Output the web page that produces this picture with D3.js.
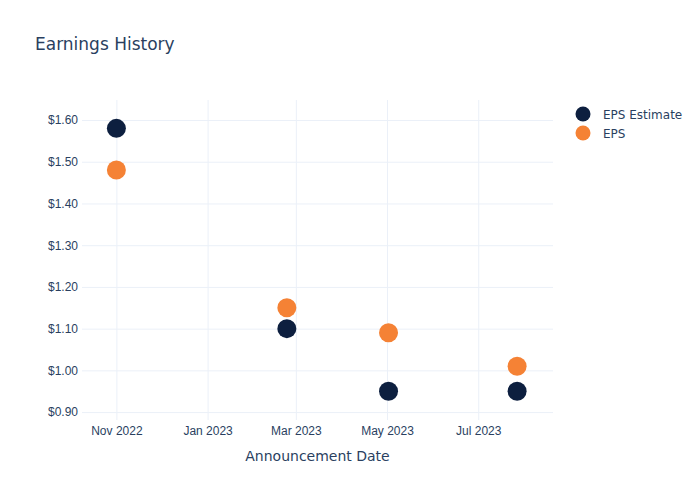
<!DOCTYPE html>
<html>
<head>
<meta charset="utf-8">
<script src="https://cdn.jsdelivr.net/npm/d3@7"></script>
<style>
  body { margin: 0; background: #fff; }
  svg { font-family: "DejaVu Sans", sans-serif; }
</style>
</head>
<body>
<svg id="chart" width="700" height="500"></svg>
<script>
const dates = ["2022-11-01", "2023-02-23", "2023-05-02", "2023-07-27"];
const epsEstimate = [1.58, 1.10, 0.95, 0.95];
const epsActual = [1.48, 1.15, 1.09, 1.01];
const seriesNames = ["EPS Estimate", "EPS"];
const seriesColors = ["#0d1f3f", "#f58235"];
const yTicks = [0.9, 1.0, 1.1, 1.2, 1.3, 1.4, 1.5, 1.6];
const xTicks = ["2022-11-01", "2023-01-01", "2023-03-01", "2023-05-01", "2023-07-01"];

(function () {
const parse = d3.utcParse("%Y-%m-%d");
const svg = d3.select("#chart");
const pLeft = 82, pRight = 553, pTop = 100, pBottom = 420;
const textColor = "#2a3f5f";
const gridColor = "#ebf0f8";

const x = d3.scaleUtc()
  .domain([parse("2022-10-09"), parse("2023-08-20")])
  .range([pLeft, pRight]);
const y = d3.scaleLinear()
  .domain([0.881, 1.648])
  .range([pBottom, pTop]);

const xAxis = d3.axisBottom(x)
  .tickValues(xTicks.map(parse))
  .tickFormat(d3.utcFormat("%b %Y"))
  .tickSize(-(pBottom - pTop))
  .tickPadding(6);
const gx = svg.append("g").attr("transform", `translate(0,${pBottom})`).call(xAxis);
gx.select(".domain").remove();
gx.selectAll("line").attr("stroke", gridColor);
gx.selectAll("text").attr("fill", textColor).attr("font-size", 12);

const yAxis = d3.axisLeft(y)
  .tickValues(yTicks)
  .tickFormat(d => "$" + d.toFixed(2))
  .tickSize(-(pRight - pLeft))
  .tickPadding(4);
const gy = svg.append("g").attr("transform", `translate(${pLeft},0)`).call(yAxis);
gy.select(".domain").remove();
gy.selectAll("line").attr("stroke", gridColor);
gy.selectAll("text").attr("fill", textColor).attr("font-size", 12);

const series = [epsEstimate, epsActual];
series.forEach((vals, i) => {
  svg.append("g").selectAll("circle")
    .data(vals.map((v, j) => ({ d: parse(dates[j]), v })))
    .join("circle")
    .attr("cx", d => x(d.d))
    .attr("cy", d => y(d.v))
    .attr("r", 9.5)
    .attr("fill", seriesColors[i]);
});

svg.append("text").attr("x", 35).attr("y", 50)
  .attr("font-size", 17).attr("fill", textColor)
  .text("Earnings History");

svg.append("text").attr("x", (pLeft + pRight) / 2).attr("y", 461)
  .attr("text-anchor", "middle").attr("font-size", 14).attr("fill", textColor)
  .text("Announcement Date");

seriesNames.forEach((name, i) => {
  const ly = 114 + i * 19;
  svg.append("circle").attr("cx", 583).attr("cy", ly).attr("r", 7.5).attr("fill", seriesColors[i]);
  svg.append("text").attr("x", 603).attr("y", ly + 4.5)
    .attr("font-size", 12).attr("fill", textColor).text(name);
});
})();
</script>
</body>
</html>
